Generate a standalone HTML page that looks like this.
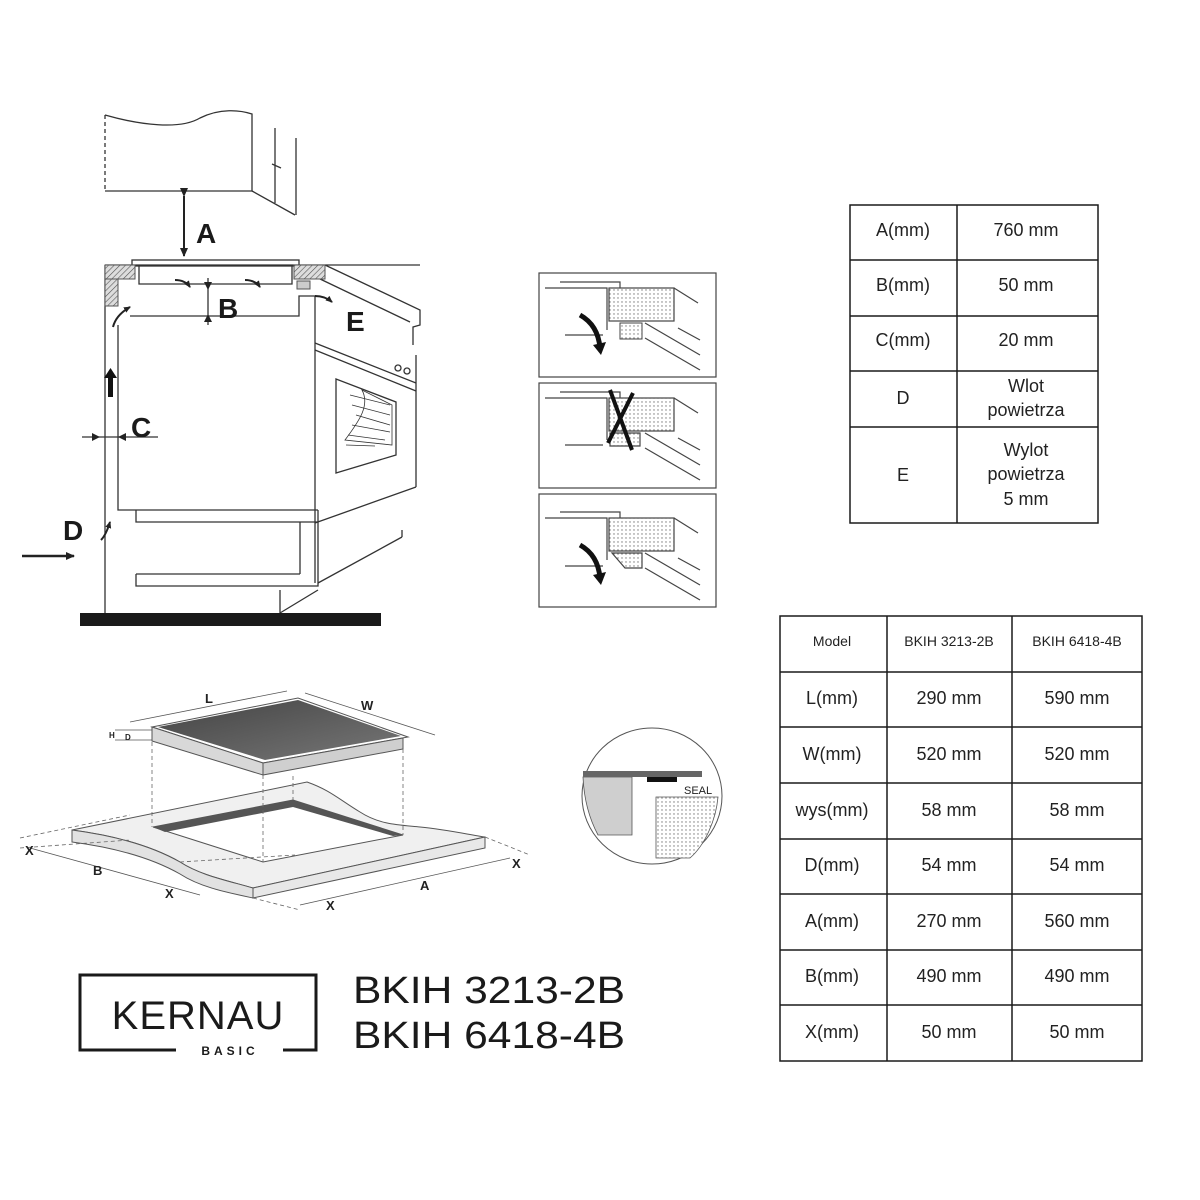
<!DOCTYPE html>
<html><head><meta charset="utf-8"><style>
html,body{margin:0;padding:0;background:#fff;}
svg{display:block;}
text{font-family:"Liberation Sans",sans-serif;}
</style></head><body>
<svg width="1200" height="1200" viewBox="0 0 1200 1200" xmlns="http://www.w3.org/2000/svg">
<defs>
<pattern id="hatch" width="4" height="4" patternUnits="userSpaceOnUse" patternTransform="rotate(45)">
<rect width="4" height="4" fill="#ddd"/><line x1="0" y1="0" x2="0" y2="4" stroke="#555" stroke-width="1.2"/></pattern>
<pattern id="dots" width="4" height="4" patternUnits="userSpaceOnUse"><rect width="4" height="4" fill="#fff"/><circle cx="2" cy="2" r="0.7" fill="#777"/></pattern>
<marker id="ah" markerUnits="userSpaceOnUse" markerWidth="10" markerHeight="10" refX="8" refY="5" orient="auto"><path d="M0,1 L9,5 L0,9 z" fill="#222"/></marker>
<marker id="as" markerUnits="userSpaceOnUse" markerWidth="8" markerHeight="8" refX="6" refY="4" orient="auto"><path d="M0,1 L7,4 L0,7 z" fill="#222"/></marker>
<linearGradient id="glass" x1="0" y1="0" x2="1" y2="1"><stop offset="0" stop-color="#444"/><stop offset="1" stop-color="#777"/></linearGradient>
</defs>
<g fill="none" stroke="#333" stroke-width="1.3">
<path d="M105,115 C140,125 180,130 200,118 C220,108 240,110 252,114 L252,191 L105,191" />
<line x1="105" y1="115" x2="105" y2="191" stroke-dasharray="4,3"/>
<line x1="252" y1="191" x2="295" y2="215"/>
<line x1="275" y1="128" x2="275" y2="203"/><line x1="296" y1="138" x2="296" y2="215"/>
<line x1="272" y1="164" x2="281" y2="168"/>
<line x1="184" y1="196" x2="184" y2="256" stroke="#222" stroke-width="2" marker-start="url(#ah)" marker-end="url(#ah)"/>
<rect x="132" y="260" width="167" height="6" fill="#fff"/>
<path d="M139,266 L139,284 L292,284 L292,266"/>
<line x1="105" y1="265" x2="420" y2="265"/>
<path d="M325,265 L420,310 L420,325 L413,327 L413,345"/>
<line x1="318" y1="278" x2="410" y2="322"/>
<line x1="105" y1="265" x2="105" y2="613"/>
<path d="M118,325 L118,510 L318,510"/>
<path d="M130,316 L299,316 L299,296 L315,296 L315,583"/>
<line x1="315" y1="343" x2="416" y2="383"/>
<line x1="315" y1="350" x2="416" y2="391"/>
<line x1="416" y1="355" x2="416" y2="487"/>
<line x1="315" y1="523" x2="416" y2="487"/>
<path d="M336,379 L396,402 L396,455 L336,473 Z"/>
<circle cx="398" cy="368" r="3"/><circle cx="407" cy="371" r="3"/>
<path d="M136,510 L136,522 L318,522 M136,574 L136,586 L318,586 L318,510 M136,574 L300,574 M300,522 L300,574"/>
<line x1="318" y1="583" x2="402" y2="537"/>
<line x1="318" y1="590" x2="280" y2="613"/>
<line x1="280" y1="590" x2="280" y2="613"/>
<path d="M402,530 L402,537"/>
</g>
<g stroke="#333" stroke-width="0.8" fill="none">
<path d="M345,440 C360,420 370,405 362,390 L392,405 L392,445 Z"/>
<line x1="350" y1="395" x2="390" y2="405"/><line x1="352" y1="405" x2="390" y2="415"/><line x1="356" y1="415" x2="390" y2="425"/><line x1="352" y1="425" x2="390" y2="432"/><line x1="348" y1="435" x2="385" y2="440"/><line x1="346" y1="445" x2="375" y2="446"/>
</g>
<rect x="105" y="265" width="30" height="14" fill="url(#hatch)" stroke="#555"/>
<rect x="105" y="279" width="13" height="27" fill="url(#hatch)" stroke="#555"/>
<rect x="294" y="265" width="31" height="14" fill="url(#hatch)" stroke="#555"/>
<rect x="297" y="281" width="13" height="8" fill="#ccc" stroke="#555"/>
<g stroke="#222" stroke-width="2" fill="none">
<path d="M175,280 Q185,280 190,287" marker-end="url(#as)"/>
<path d="M245,280 Q255,280 260,287" marker-end="url(#as)"/>
<path d="M315,296 Q325,296 332,302" marker-end="url(#as)"/>
<path d="M113,327 Q116,315 130,307" marker-end="url(#as)"/>
<path d="M101,540 Q106,535 110,522" marker-end="url(#as)"/>
</g>
<line x1="208" y1="278" x2="208" y2="325" stroke="#222" stroke-width="1.2"/>
<path d="M204,282 L212,282 L208,290 Z M204,322 L212,322 L208,314 Z" fill="#222"/>
<rect x="108" y="375" width="5" height="22" fill="#111"/><path d="M104,378 L110.5,368 L117,378 Z" fill="#111"/>
<line x1="82" y1="437" x2="158" y2="437" stroke="#333" stroke-width="1.2"/>
<path d="M92,433 L100,437 L92,441 Z M126,433 L118,437 L126,441 Z" fill="#222"/>
<line x1="22" y1="556" x2="74" y2="556" stroke="#222" stroke-width="2.5" marker-end="url(#ah)"/>
<rect x="80" y="613" width="301" height="13" fill="#1a1a1a"/>
<g font-weight="bold" font-size="28" fill="#1a1a1a">
<text x="196" y="243">A</text><text x="218" y="318">B</text><text x="346" y="331">E</text><text x="131" y="437">C</text><text x="63" y="540">D</text>
</g>
<g fill="none" stroke="#444" stroke-width="1.2">
<rect x="539" y="273" width="177" height="104"/><rect x="539" y="383" width="177" height="105"/><rect x="539" y="494" width="177" height="113"/>
</g>
<g fill="none" stroke="#444" stroke-width="1.2">
<path d="M545,288 L607,288 L607,330 M560,282 L620,282 L620,290"/>
<rect x="609" y="288" width="65" height="33" fill="url(#dots)"/>
<line x1="674" y1="288" x2="698" y2="303"/><line x1="678" y1="328" x2="700" y2="340"/><line x1="645" y1="323" x2="700" y2="355"/><line x1="645" y1="338" x2="700" y2="370"/>
<line x1="565" y1="335" x2="603" y2="335"/>
</g>
<rect x="620" y="323" width="22" height="16" fill="url(#dots)" stroke="#444"/>
<path d="M580,315 Q598,325 600,348" stroke="#111" stroke-width="5" fill="none"/><path d="M593,345 L601,355 L606,342 Z" fill="#111"/>
<g fill="none" stroke="#444" stroke-width="1.2">
<path d="M545,398 L607,398 L607,440 M560,392 L620,392 L620,400"/>
<rect x="609" y="398" width="65" height="33" fill="url(#dots)"/>
<line x1="674" y1="398" x2="698" y2="413"/><line x1="678" y1="438" x2="700" y2="450"/><line x1="645" y1="433" x2="700" y2="465"/><line x1="645" y1="448" x2="700" y2="480"/>
<line x1="565" y1="445" x2="603" y2="445"/>
<path d="M610,433 L640,433 L640,446 L610,446 Z" fill="url(#dots)"/>
</g>
<path d="M610,390 L632,450 M633,393 L608,443" stroke="#111" stroke-width="4"/>
<g fill="none" stroke="#444" stroke-width="1.2">
<path d="M545,518 L607,518 L607,560 M560,512 L620,512 L620,520"/>
<rect x="609" y="518" width="65" height="33" fill="url(#dots)"/>
<line x1="674" y1="518" x2="698" y2="533"/><line x1="678" y1="558" x2="700" y2="570"/><line x1="645" y1="553" x2="700" y2="585"/><line x1="645" y1="568" x2="700" y2="600"/>
<line x1="565" y1="566" x2="603" y2="566"/>
<path d="M612,553 L642,553 L642,568 L625,568 Z" fill="url(#dots)"/>
</g>
<path d="M580,545 Q598,555 600,578" stroke="#111" stroke-width="5" fill="none"/><path d="M593,575 L601,585 L606,572 Z" fill="#111"/>
<path d="M72,830 L307,782 C330,790 340,800 360,812 C380,825 400,825 420,827 C450,830 470,835 485,837 L253,888 C225,880 200,875 180,862 C150,845 110,835 72,830 Z" fill="#f0f0f0" stroke="#555" stroke-width="1"/>
<path d="M72,830 L72,842 C110,847 150,857 180,874 C200,887 225,892 253,898 L253,888 C225,880 200,875 180,862 C150,845 110,835 72,830 Z" fill="#e2e2e2" stroke="#555" stroke-width="1"/>
<path d="M253,888 L485,837 L485,848 L253,898 Z" fill="#e8e8e8" stroke="#555" stroke-width="1"/>
<path d="M153,827 L293,800 L403,835 L263,862 Z" fill="#fff" stroke="#555"/>
<path d="M153,827 L293,800 L293,807 L165,832 Z" fill="#555"/>
<path d="M293,800 L403,835 L393,836 L293,807 Z" fill="#555"/>
<path d="M152,727 L298,698 L408,737 L263,763 Z" fill="#fff" stroke="#555"/>
<path d="M152,727 L152,741 L263,775 L263,763 Z" fill="#d8d8d8" stroke="#555"/>
<path d="M263,763 L403,738 L403,749 L263,775 Z" fill="#cfcfcf" stroke="#555"/>
<path d="M158,727 L298,700 L401,736 L265,760 Z" fill="url(#glass)"/>
<g stroke="#666" stroke-width="0.8" stroke-dasharray="4,3" fill="none">
<line x1="152" y1="742" x2="152" y2="827"/><line x1="263" y1="775" x2="263" y2="862"/><line x1="403" y1="749" x2="403" y2="835"/><line x1="293" y1="776" x2="293" y2="800"/>
<line x1="20" y1="838" x2="130" y2="815"/><line x1="20" y1="848" x2="130" y2="840"/>
<line x1="180" y1="862" x2="295" y2="855"/><line x1="485" y1="837" x2="530" y2="855"/>
<line x1="253" y1="898" x2="300" y2="910"/>
</g>
<g stroke="#555" stroke-width="0.8" fill="none">
<line x1="130" y1="722" x2="287" y2="691"/><line x1="305" y1="693" x2="435" y2="735"/>
<line x1="30" y1="848" x2="200" y2="895"/><line x1="300" y1="905" x2="510" y2="858"/>
<line x1="115" y1="730" x2="152" y2="730"/><line x1="115" y1="740" x2="152" y2="740"/>
</g>
<g font-weight="bold" font-size="13" fill="#222">
<text x="205" y="703">L</text><text x="361" y="710">W</text><text x="25" y="855">X</text><text x="93" y="875">B</text><text x="165" y="898">X</text><text x="326" y="910">X</text><text x="420" y="890">A</text><text x="512" y="868">X</text>
<text x="109" y="738" font-size="8">H</text><text x="125" y="740" font-size="8">D</text>
</g>
<ellipse cx="652" cy="796" rx="70" ry="68" fill="#fff" stroke="#555"/>
<path d="M583,777 L632,777 L632,835 L598,835 C590,820 584,800 583,777 Z" fill="#cfcfcf" stroke="#555" stroke-width="0.8"/>
<rect x="583" y="771" width="119" height="6" fill="#666"/>
<rect x="647" y="777" width="30" height="5" fill="#111"/>
<path d="M656,797 L718,797 C716,820 705,845 690,858 L656,858 Z" fill="url(#dots)" stroke="#555" stroke-width="0.8"/>
<text x="684" y="794" font-size="11" fill="#222">SEAL</text>
<path d="M176,1050 L80,1050 L80,975 L316,975 L316,1050 L283,1050" fill="none" stroke="#1a1a1a" stroke-width="3"/>
<text x="198" y="1029" font-size="40" text-anchor="middle" fill="#1a1a1a" letter-spacing="1">KERNAU</text>
<text x="230" y="1055" font-size="12" font-weight="bold" text-anchor="middle" fill="#1a1a1a" letter-spacing="4">BASIC</text>
<text x="353" y="1003" font-size="38" fill="#1a1a1a" textLength="272" lengthAdjust="spacingAndGlyphs">BKIH 3213-2B</text>
<text x="353" y="1048" font-size="38" fill="#1a1a1a" textLength="272" lengthAdjust="spacingAndGlyphs">BKIH 6418-4B</text>
<g stroke="#1a1a1a" stroke-width="1.5" fill="none">
<rect x="850" y="205" width="248" height="318"/>
<line x1="957" y1="205" x2="957" y2="523"/>
<line x1="850" y1="260" x2="1098" y2="260"/><line x1="850" y1="316" x2="1098" y2="316"/><line x1="850" y1="371" x2="1098" y2="371"/><line x1="850" y1="427" x2="1098" y2="427"/>
</g>
<g font-size="18" fill="#222" text-anchor="middle">
<text x="903" y="236">A(mm)</text><text x="1026" y="236">760 mm</text>
<text x="903" y="291">B(mm)</text><text x="1026" y="291">50 mm</text>
<text x="903" y="346">C(mm)</text><text x="1026" y="346">20 mm</text>
<text x="903" y="404">D</text><text x="1026" y="392">Wlot</text><text x="1026" y="416">powietrza</text>
<text x="903" y="481">E</text><text x="1026" y="456">Wylot</text><text x="1026" y="480">powietrza</text><text x="1026" y="505">5 mm</text>
</g>
<g stroke="#1a1a1a" stroke-width="1.5" fill="none">
<rect x="780" y="616" width="362" height="445"/>
<line x1="887" y1="616" x2="887" y2="1061"/><line x1="1012" y1="616" x2="1012" y2="1061"/>
<line x1="780" y1="672" x2="1142" y2="672"/><line x1="780" y1="727" x2="1142" y2="727"/><line x1="780" y1="783" x2="1142" y2="783"/><line x1="780" y1="839" x2="1142" y2="839"/><line x1="780" y1="894" x2="1142" y2="894"/><line x1="780" y1="950" x2="1142" y2="950"/><line x1="780" y1="1005" x2="1142" y2="1005"/>
</g>
<g font-size="14" fill="#222" text-anchor="middle">
<text x="832" y="646">Model</text><text x="949" y="646">BKIH 3213-2B</text><text x="1077" y="646">BKIH 6418-4B</text>
</g>
<g font-size="18" fill="#222" text-anchor="middle">
<text x="832" y="704">L(mm)</text><text x="949" y="704">290 mm</text><text x="1077" y="704">590 mm</text>
<text x="832" y="760">W(mm)</text><text x="949" y="760">520 mm</text><text x="1077" y="760">520 mm</text>
<text x="832" y="816">wys(mm)</text><text x="949" y="816">58 mm</text><text x="1077" y="816">58 mm</text>
<text x="832" y="871">D(mm)</text><text x="949" y="871">54 mm</text><text x="1077" y="871">54 mm</text>
<text x="832" y="927">A(mm)</text><text x="949" y="927">270 mm</text><text x="1077" y="927">560 mm</text>
<text x="832" y="982">B(mm)</text><text x="949" y="982">490 mm</text><text x="1077" y="982">490 mm</text>
<text x="832" y="1038">X(mm)</text><text x="949" y="1038">50 mm</text><text x="1077" y="1038">50 mm</text>
</g>
</svg>
</body></html>
